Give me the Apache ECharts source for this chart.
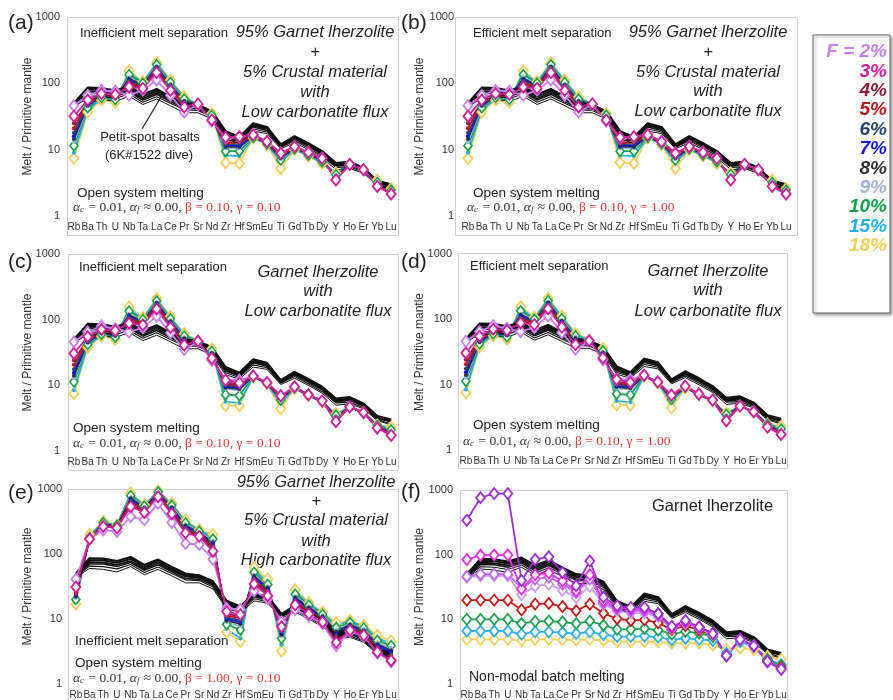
<!DOCTYPE html>
<html>
<head>
<meta charset="utf-8">
<script src="https://cdn.jsdelivr.net/npm/echarts@6/dist/echarts.min.js"></script>
<style>
  html, body { margin: 0; padding: 0; background: #ffffff; }
  #chart { width: 893px; height: 700px; }
</style>
</head>
<body>
<div id="chart"></div>
<script>
// ---- Element order (primitive-mantle normalised spider diagram) ----
const elements = ['Rb','Ba','Th','U','Nb','Ta','La','Ce','Pr','Sr','Nd','Zr','Hf','Sm','Eu','Ti','Gd','Tb','Dy','Y','Ho','Er','Yb','Lu'];
const yTickValues = [1, 10, 100, 1000];

// ---- Degrees of melting and their colours ----
const meltFractions = ['2%','3%','4%','5%','6%','7%','8%','9%','10%','15%','18%'];
const fractionColors = ['#c77ff0','#cc1f99','#8e1b3b','#c0141c','#25476e','#1414e0','#333333','#9fb2da','#12a04a','#22aee8','#f5cf5c'];

// ---- Petit-spot basalts (6K#1522 dive) ----
const basalt1 = [50, 86, 85, 78, 90, 68, 82, 63, 50, 47, 38, 19, 15.5, 25, 22, 12, 16, 12.5, 9.5, 6.3, 6.6, 5.3, 3.4, 3.0];
const basalt2 = [48, 80, 80, 73, 84, 63, 77, 59, 47, 45, 36, 18, 14.5, 24, 21, 11.6, 15.3, 12, 9.1, 6.0, 6.3, 5.1, 3.3, 2.9];
const basalt3 = [47, 75, 74, 68, 78, 59, 72, 56, 45, 43, 35, 17.5, 14, 23, 20.5, 11.3, 14.8, 11.6, 8.8, 5.8, 6.1, 5.0, 3.2, 2.85];
const basalt4 = [46, 70, 70, 64, 74, 56, 68, 53, 42, 41, 33, 16.5, 13.8, 22, 19.5, 11, 14.3, 11.2, 8.5, 5.6, 5.9, 4.8, 3.1, 2.8];
const basalt5 = [45, 65, 64, 59, 69, 52, 63, 50, 40, 39, 31, 15.5, 13.2, 20.5, 18.5, 10.8, 13.6, 10.6, 8.0, 5.4, 5.5, 4.6, 3.0, 2.6];
const basalt6 = [44, 60, 58, 53, 64, 48, 58, 46, 36, 36, 29, 14.5, 12.5, 19, 17.5, 10.3, 12.8, 10, 7.6, 5.0, 5.2, 4.4, 2.9, 2.5];
const basalts = [basalt1, basalt2, basalt3, basalt4, basalt5, basalt6];
const basaltWidths = [2.2, 2.0, 1.8, 1.5, 1.1, 1.0];

// ---- Open-system melting: 95% garnet lherzolite + 5% crust, low carbonatite flux ----
const mixLow2  = [46, 66, 78, 76, 66, 79, 112, 66, 37, 48, 27, 15, 15.5, 17, 13.4, 9, 11.2, 9.2, 7.5, 3.5, 6.0, 5.0, 2.8, 2.15];
const mixLow3  = [32, 56, 70, 68, 88, 84, 145, 78, 44, 49, 28, 15.4, 15.7, 16.7, 13.2, 8.8, 11.1, 9.1, 7.4, 3.5, 6.0, 5.0, 2.8, 2.15];
const mixLow4  = [25, 52, 68, 66, 96, 86, 155, 83, 47, 49, 29, 13.5, 14, 16.5, 13, 8.4, 11, 9, 7.3, 3.6, 6.0, 5.0, 2.9, 2.2];
const mixLow5  = [21, 50, 66, 64, 102, 88, 162, 86, 49, 49, 30, 12.5, 13, 16.3, 12.9, 8.1, 10.9, 8.9, 7.2, 3.7, 5.9, 4.9, 2.9, 2.25];
const mixLow6  = [18, 48, 65, 62, 108, 90, 168, 89, 51, 49, 30, 12, 12.2, 16.2, 12.8, 7.8, 10.8, 8.8, 7.1, 3.8, 5.9, 4.9, 3.0, 2.3];
const mixLow7  = [16, 47, 64, 61, 113, 92, 174, 92, 52, 49, 31, 11.5, 11.5, 16, 12.7, 7.6, 10.7, 8.7, 7.0, 3.9, 5.9, 4.9, 3.0, 2.35];
const mixLow8  = [14.5, 46, 63, 60, 118, 94, 178, 95, 54, 49, 31, 11, 11, 15.8, 12.6, 7.4, 10.6, 8.6, 6.9, 4.0, 5.9, 4.9, 3.1, 2.4];
const mixLow9  = [13, 45, 62, 59, 123, 96, 183, 98, 55, 49, 32, 10.5, 10.5, 15.6, 12.5, 7.2, 10.5, 8.5, 6.8, 4.1, 5.9, 4.9, 3.1, 2.4];
const mixLow10 = [11.5, 43, 61, 57, 135, 100, 190, 103, 58, 49, 33, 9.5, 9.5, 15.4, 12.3, 7.0, 10.3, 8.3, 6.6, 4.2, 5.9, 4.9, 3.2, 2.45];
const mixLow15 = [9, 40, 58, 54, 145, 103, 198, 108, 61, 48, 34, 8.2, 8, 15.2, 12.1, 6.5, 10.1, 8.1, 6.4, 4.4, 6.0, 5.0, 3.3, 2.5];
const mixLow18 = [7.4, 37, 56, 52, 155, 106, 205, 112, 63, 48, 35, 6.4, 6.2, 15, 12, 5.2, 10, 8, 6.2, 4.5, 6.0, 5.0, 3.5, 2.6];
const mixLowRuns = [mixLow2, mixLow3, mixLow4, mixLow5, mixLow6, mixLow7, mixLow8, mixLow9, mixLow10, mixLow15, mixLow18];

// ---- Open-system melting: garnet lherzolite, low carbonatite flux ----
const lherzLow2  = [46, 65, 80, 73, 65, 75, 113, 63, 35, 46, 24, 12, 12, 14, 11.1, 7, 9.5, 7.2, 5.8, 2.8, 4.7, 3.85, 2.24, 1.73];
const lherzLow3  = [30.5, 55, 71, 68, 88, 83, 145, 76, 41, 47, 25.7, 12, 10.9, 13.9, 11, 6.9, 9.5, 7.2, 5.8, 2.8, 4.7, 3.85, 2.24, 1.73];
const lherzLow4  = [24, 51, 68, 65, 95, 85, 155, 81, 44, 47, 27, 11, 10.5, 13.9, 11, 6.7, 9.4, 7.2, 5.8, 2.9, 4.7, 3.85, 2.28, 1.78];
const lherzLow5  = [20.5, 49, 66, 62, 102, 88, 163, 85, 46, 47, 28, 10.5, 10, 13.8, 10.9, 6.5, 9.4, 7.1, 5.8, 3.0, 4.7, 3.85, 2.3, 1.82];
const lherzLow6  = [17.5, 47, 64, 60, 108, 90, 170, 88, 48, 47, 29, 10, 9.6, 13.8, 10.9, 6.4, 9.3, 7.1, 5.7, 3.1, 4.7, 3.85, 2.33, 1.86];
const lherzLow7  = [15.5, 46, 63, 58, 113, 92, 176, 92, 50, 47, 30, 9.6, 9.2, 13.7, 10.8, 6.3, 9.3, 7.1, 5.7, 3.2, 4.7, 3.85, 2.36, 1.9];
const lherzLow8  = [14, 45, 62, 57, 118, 94, 181, 95, 52, 47, 31, 9.2, 8.8, 13.7, 10.8, 6.2, 9.2, 7.1, 5.7, 3.3, 4.7, 3.85, 2.4, 1.95];
const lherzLow9  = [12.8, 44, 61, 56, 123, 96, 186, 98, 54, 47, 32, 8.8, 8.4, 13.6, 10.7, 6.1, 9.2, 7.1, 5.7, 3.4, 4.7, 3.85, 2.42, 2.0];
const lherzLow10 = [11.3, 42, 60, 54, 135, 100, 193, 103, 56, 47, 33, 7.2, 7, 13.6, 10.7, 6.0, 9.1, 7.0, 5.7, 3.5, 4.7, 3.85, 2.45, 2.1];
const lherzLow15 = [8.4, 40, 58, 52, 145, 103, 202, 108, 59, 48, 34.5, 5.6, 5.4, 13.5, 10.6, 5.3, 9.0, 7.0, 5.6, 3.6, 4.7, 3.85, 2.48, 2.2];
const lherzLow18 = [7.5, 38, 56, 50, 157, 107, 210, 113, 61, 48, 36, 4.9, 4.9, 13.5, 10.6, 4.4, 8.9, 7.0, 5.6, 3.7, 4.7, 3.85, 2.5, 2.3];
const lherzLowRuns = [lherzLow2, lherzLow3, lherzLow4, lherzLow5, lherzLow6, lherzLow7, lherzLow8, lherzLow9, lherzLow10, lherzLow15, lherzLow18];

// ---- Open-system melting: 95% garnet lherzolite + 5% crust, high carbonatite flux ----
const mixHigh2  = [41, 168, 235, 222, 377, 335, 600, 305, 145, 140, 83, 14.5, 14, 27, 20.5, 9, 14, 11, 8.5, 3.9, 6.4, 5.4, 3.0, 2.2];
const mixHigh3  = [31, 170, 265, 252, 535, 435, 760, 415, 210, 187, 110, 13, 11.7, 34.5, 22.8, 7.6, 16.5, 12, 9, 4.35, 6.7, 5.6, 3.1, 2.3];
const mixHigh4  = [27, 171, 272, 256, 580, 455, 790, 440, 225, 193, 120, 12, 11, 37, 24.5, 7.2, 17.5, 12.6, 9.4, 4.8, 7.0, 5.8, 3.3, 2.5];
const mixHigh5  = [25, 172, 278, 260, 620, 470, 815, 460, 238, 198, 128, 11.3, 10.3, 40, 26, 6.8, 18.5, 13.2, 9.8, 5.2, 7.3, 6.0, 3.5, 2.7];
const mixHigh6  = [24, 173, 283, 263, 660, 485, 835, 480, 250, 203, 135, 10.6, 9.6, 42, 27.5, 6.4, 19.5, 13.8, 10.2, 5.6, 7.6, 6.2, 3.7, 2.9];
const mixHigh7  = [23, 174, 288, 266, 690, 500, 855, 500, 262, 208, 143, 10, 9, 44, 29, 6, 20.5, 14.4, 10.6, 6, 7.9, 6.4, 3.9, 3.1];
const mixHigh8  = [22, 175, 292, 269, 720, 515, 870, 520, 275, 213, 152, 9.4, 8.4, 46, 30.5, 5.7, 21.5, 15, 11, 6.4, 8.2, 6.7, 4.1, 3.3];
const mixHigh9  = [21, 176, 296, 272, 750, 530, 885, 540, 288, 218, 160, 8.9, 7.8, 48, 32, 5.4, 22.5, 15.6, 11.4, 6.8, 8.5, 7.0, 4.4, 3.6];
const mixHigh10 = [20, 180, 302, 275, 790, 545, 900, 560, 300, 223, 170, 8.3, 6.8, 52, 34, 5, 24, 16.3, 11.8, 7.4, 8.8, 7.3, 4.7, 3.9];
const mixHigh15 = [19, 190, 310, 278, 830, 560, 920, 580, 315, 230, 185, 7, 5, 57, 37, 4, 26, 17.2, 12.3, 8.1, 9.2, 7.7, 5.1, 4.2];
const mixHigh18 = [17, 200, 316, 280, 870, 570, 935, 600, 330, 236, 200, 6.3, 4.5, 62, 41, 3.2, 28, 18, 12.8, 8.8, 9.5, 8.0, 5.6, 4.6];
const mixHighRuns = [mixHigh2, mixHigh3, mixHigh4, mixHigh5, mixHigh6, mixHigh7, mixHigh8, mixHigh9, mixHigh10, mixHigh15, mixHigh18];

// ---- Non-modal batch melting of garnet lherzolite ----
const batchPurple  = [340, 760, 880, 880, 40, 84, 93, 53, 33, 80, 22, 16.2, 15.3, 15.3, 12.2, 7.8, 9.6, 7.6, 6.0, 2.75, 4.9, 3.9, 2.25, 1.7];
const batchMagenta = [84, 98, 99, 99, 29.5, 49, 52, 39, 27.4, 49, 19.3, 15.3, 14.4, 14.4, 12.2, 7.4, 9.1, 7.6, 6.0, 2.75, 4.9, 3.9, 2.25, 1.7];
const batchViolet  = [46, 50, 50, 50, 30, 42, 45, 35, 26, 42, 18, 14.5, 13.5, 13.5, 11.5, 7.4, 9.0, 7.5, 6.0, 2.7, 4.9, 3.9, 2.2, 1.7];
const batchLilac   = [45, 47, 47, 47, 24, 32.6, 35, 28, 21.7, 32.6, 17.1, 13.5, 12.5, 12.5, 11, 7.2, 8.7, 7.3, 5.8, 2.7, 4.8, 3.8, 2.2, 1.7];
const batchRed     = [19.8, 19.8, 19.8, 19.8, 14, 17.2, 17.6, 15.7, 13.6, 17.2, 12.4, 10.2, 9.6, 9.8, 8.8, 6.9, 8.0, 6.8, 5.7, 2.75, 4.9, 3.9, 2.2, 1.8];
const batchGreen   = [10, 10, 10, 10, 8.6, 9.3, 9.4, 9.1, 8.6, 9.4, 8.1, 7.0, 7.0, 7.2, 6.8, 5.9, 6.5, 6.1, 5.4, 2.75, 4.9, 3.9, 2.4, 1.9];
const batchCyan    = [6.6, 6.6, 6.6, 6.6, 5.9, 6.4, 6.4, 6.25, 6.0, 6.4, 5.8, 5.4, 5.4, 5.5, 5.3, 4.8, 5.1, 4.9, 4.7, 3.0, 4.5, 3.8, 2.4, 2.0];
const batchYellow  = [4.9, 4.9, 4.9, 4.9, 4.7, 4.9, 4.9, 4.8, 4.8, 4.9, 4.7, 4.5, 4.5, 4.5, 4.5, 4.3, 4.3, 4.3, 4.0, 3.4, 3.6, 3.4, 2.7, 2.4];
// drawn bottom to top
const batchRuns   = [batchYellow, batchCyan, batchGreen, batchRed, batchLilac, batchViolet, batchMagenta, batchPurple];
const batchColors = ['#f5cf5c', '#2db0e8', '#1fa050', '#c41a1a', '#cc9cf0', '#bb66ee', '#e82ee0', '#9b2fd0'];

// ---- Layout of the six panels ----
const FONT = "'Liberation Sans', Arial, sans-serif";
const SERIF = "'Liberation Serif', 'DejaVu Serif', serif";
const grids = [
  { left: 67,  top: 17,  width: 331, height: 199 },
  { left: 461, top: 17,  width: 332, height: 199 },
  { left: 67,  top: 254, width: 331, height: 197 },
  { left: 459, top: 254, width: 329, height: 196 },
  { left: 69,  top: 489, width: 329, height: 197 },
  { left: 460, top: 490, width: 328, height: 198 }
];
const nameGaps = [33, 35, 33, 33, 35, 34];
const frames = [
  [67, 17, 331, 218], [455, 17, 342, 218],
  [68, 254, 330, 216], [458, 253, 329, 215],
  [68, 489, 330, 215], [460, 490, 327, 215]
];
const panelModels = [mixLowRuns, mixLowRuns, lherzLowRuns, lherzLowRuns, mixHighRuns];

const xAxes = grids.map((g, i) => ({
  type: 'category', gridIndex: i, data: elements, boundaryGap: true,
  axisLine: { show: false }, axisTick: { show: false },
  axisLabel: { interval: 0, fontSize: 10, color: '#333', fontFamily: FONT, margin: 6 }
}));
const yAxes = grids.map((g, i) => ({
  type: 'log', logBase: 10, gridIndex: i, min: yTickValues[0], max: yTickValues[yTickValues.length - 1],
  name: 'Melt / Primitive mantle', nameLocation: 'middle', nameGap: nameGaps[i], nameMoveOverlap: false,
  nameTextStyle: { fontSize: 12, color: '#333', fontFamily: FONT },
  axisLine: { show: false }, axisTick: { show: false }, splitLine: { show: false },
  axisLabel: { fontSize: 11, color: '#333', fontFamily: FONT, margin: 7, formatter: v => String(Math.round(v)) }
}));

const series = [];
function modelLine(panel, values, color, kind) {
  const s = {
    type: 'line', xAxisIndex: panel, yAxisIndex: panel, data: values,
    lineStyle: { color: color, width: 1.8 }, silent: true, animation: false
  };
  if (kind === 'big') {
    s.symbol = 'diamond'; s.symbolSize = [9, 11];
    s.itemStyle = { color: '#ffffff', borderColor: color, borderWidth: 1.8 };
  } else if (kind === 'mid') {
    s.symbol = 'diamond'; s.symbolSize = [8, 10];
    s.itemStyle = { color: '#ffffff', borderColor: color, borderWidth: 1.6 };
  } else {
    s.symbol = 'circle'; s.symbolSize = 4;
    s.itemStyle = { color: color, borderColor: color, borderWidth: 0 };
  }
  return s;
}
function basaltLines(panel) {
  basalts.forEach((b, k) => {
    series.push({
      type: 'line', xAxisIndex: panel, yAxisIndex: panel, data: b, symbol: 'none',
      lineStyle: { color: '#111111', width: basaltWidths[k] }, silent: true, animation: false
    });
  });
}

// panels (a)–(e): open-system melting models
panelModels.forEach((runs, p) => {
  for (let k = runs.length - 1; k >= 2; k--) {
    const kind = (k === 10) ? 'big' : (k === 8 ? 'mid' : 'small');
    series.push(modelLine(p, runs[k], fractionColors[k], kind));
  }
  basaltLines(p);
  series.push(modelLine(p, runs[0], fractionColors[0], 'big'));
  series.push(modelLine(p, runs[1], fractionColors[1], 'big'));
});
// panel (f): batch melting
batchRuns.forEach((r, k) => {
  if (k === 6) basaltLines(5);
  series.push(modelLine(5, r, batchColors[k], 'big'));
});

// ---- Text annotations ----
const graphic = [];
function text(x, y, str, o) {
  o = o || {};
  graphic.push({
    type: 'text', x: x, y: y, silent: true,
    style: {
      text: str, fill: o.fill || '#222', fontSize: o.size || 13, fontFamily: o.family || FONT,
      fontStyle: o.style || 'normal', fontWeight: o.weight || 'normal',
      align: o.align || 'left', verticalAlign: 'middle', rich: o.rich
    }
  });
}
function formula(x, y, beta, gamma) {
  const base = { fontFamily: SERIF, fontSize: 13.5, fill: '#333', color: '#333' };
  const rich = {
    g: Object.assign({}, base, { fontStyle: 'italic' }),
    s: Object.assign({}, base, { fontStyle: 'italic', fontSize: 9, verticalAlign: 'bottom', padding: [0, 1, 0, 0] }),
    n: base,
    r: Object.assign({}, base, { fill: '#e23a3a', color: '#e23a3a' })
  };
  text(x, y, '{g|α}{s|c}{n| = 0.01, }{g|α}{s|f}{n| ≈ 0.00, }{r|β = ' + beta + ', γ = ' + gamma + '}', { rich: rich });
}
function stack(cx, ys, lines, italic) {
  lines.forEach((t, i) => text(cx, ys[i], t, { size: 16.5, style: italic ? 'italic' : 'normal', align: 'center' }));
}
const mixLowTitle  = ['95% Garnet lherzolite', '+', '5% Crustal material', 'with', 'Low carbonatite flux'];
const mixHighTitle = ['95% Garnet lherzolite', '+', '5% Crustal material', 'with', 'High carbonatite flux'];
const lherzTitle   = ['Garnet lherzolite', 'with', 'Low carbonatite flux'];

// (a)
text(8, 23, '(a)', { size: 21 });
text(80, 33, 'Inefficient melt separation');
stack(315, [32, 52, 72, 92, 112], mixLowTitle, true);
text(150, 137, 'Petit-spot basalts', { align: 'center' });
text(149, 155, '(6K#1522 dive)', { align: 'center' });
graphic.push({ type: 'line', silent: true, shape: { x1: 142, y1: 129, x2: 161, y2: 97 }, style: { stroke: '#222', lineWidth: 1.2 } });
text(77, 193, 'Open system melting', { size: 13.5 });
formula(73, 207, '0.10', '0.10');
// (b)
text(401, 23, '(b)', { size: 21 });
text(473, 33, 'Efficient melt separation');
stack(708, [32, 52, 72, 91, 111], mixLowTitle, true);
text(473, 193, 'Open system melting', { size: 13.5 });
formula(467, 207, '0.10', '1.00');
// (c)
text(8, 262, '(c)', { size: 21 });
text(79, 267, 'Inefficient melt separation');
stack(318, [272, 291, 311], lherzTitle, true);
text(73, 428, 'Open system melting', { size: 13.5 });
formula(73, 443, '0.10', '0.10');
// (d)
text(401, 262, '(d)', { size: 21 });
text(470, 266, 'Efficient melt separation');
stack(708, [271, 290, 311], lherzTitle, true);
text(473, 425, 'Open system melting', { size: 13.5 });
formula(463, 441, '0.10', '1.00');
// (e)
text(8, 493, '(e)', { size: 21 });
stack(316, [482, 501, 520, 541, 560], mixHighTitle, true);
text(75, 641, 'Inefficient melt separation', { size: 13.5 });
text(75, 663, 'Open system melting', { size: 13.5 });
formula(73, 678, '1.00', '0.10');
// (f)
text(401, 492, '(f)', { size: 21 });
text(652, 506, 'Garnet lherzolite', { size: 16.5 });
text(469, 677, 'Non-modal batch melting', { size: 14 });

// ---- Legend of melting degrees ----
graphic.push({
  type: 'rect', silent: true, z: -1,
  shape: { x: 813, y: 35, width: 77, height: 278 },
  style: { fill: '#ffffff', stroke: '#666', lineWidth: 1, shadowBlur: 3, shadowOffsetX: 2, shadowOffsetY: 2, shadowColor: 'rgba(0,0,0,0.35)' }
});
meltFractions.forEach((f, i) => {
  text(887, 52 + i * 19.4, (i === 0 ? 'F = ' : '') + f, { size: 19, weight: 'bold', style: 'italic', align: 'right', fill: fractionColors[i] });
});

// plot frames
frames.forEach(fr => {
  graphic.push({
    type: 'rect', silent: true, z: -2,
    shape: { x: fr[0] + 0.5, y: fr[1] + 0.5, width: fr[2], height: fr[3] },
    style: { fill: 'none', stroke: '#cfcfcf', lineWidth: 1 }
  });
});

const chart = echarts.init(document.getElementById('chart'), null, { renderer: 'canvas' });
chart.setOption({
  animation: false,
  backgroundColor: '#ffffff',
  grid: grids,
  xAxis: xAxes,
  yAxis: yAxes,
  series: series,
  graphic: graphic
});
</script>
</body>
</html>
